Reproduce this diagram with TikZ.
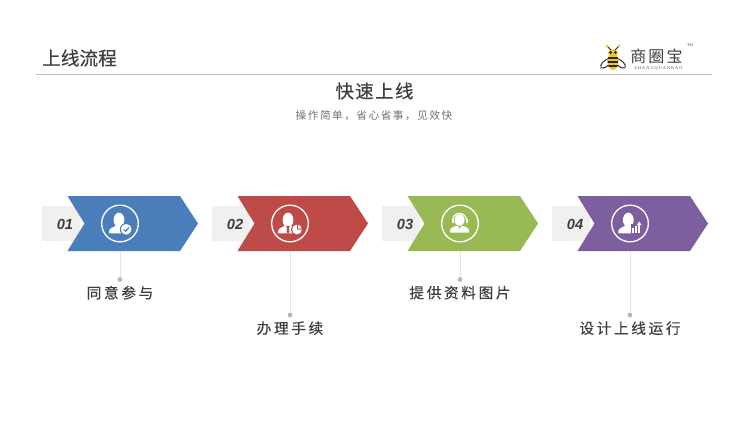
\documentclass[tikz,border=0pt]{standalone}
\usepackage{fontspec}
\setmainfont{Liberation Sans}
\newfontfamily\cjk[FakeBold=0.4]{Noto Sans CJK SC}
\newfontfamily\cjkwide[LetterSpace=18,FakeBold=0.4]{Noto Sans CJK SC}
\newfontfamily\cjkmid[LetterSpace=8,FakeBold=0.4]{Noto Sans CJK SC}
\newfontfamily\cjksub[LetterSpace=14]{Noto Sans CJK SC}
\newfontfamily\logoserif{Liberation Serif}
\usetikzlibrary{positioning}
\definecolor{stepblue}{HTML}{4A7EBB}
\definecolor{stepred}{HTML}{BE4B48}
\definecolor{stepgreen}{HTML}{98B954}
\definecolor{steppurple}{HTML}{7D5FA0}
\definecolor{tabgrey}{HTML}{F0F0F0}
\definecolor{inkgrey}{HTML}{3F3F3F}
\definecolor{beeyellow}{HTML}{F2C524}
\tikzset{
  steplabel/.style = {text = inkgrey, inner sep = 0, font = \fontsize{11}{12}\cjkwide},
  stepnum/.style = {text = inkgrey, inner sep = 0, font = \fontsize{11}{12}\bfseries\itshape},
  stemdot/.style = {fill = black!28, circle, inner sep = 0, minimum size = 3.6},
  stem/.style = {draw = black!10, line width = 0.7},
  ring/.style = {draw = white, line width = 1, circle, inner sep = 0, minimum size = 27.5},
}
\newcommand{\personshape}{
  \fill [white] (0, -3.5) ellipse (5.4 and 7.3);
  \fill [white] (-10, 9.8) .. controls (-10.5, 5.5) and (-8, 4.5) .. (-3.5, 2.5)
    -- (3.5, 2.5) .. controls (8, 4.5) and (10.5, 5.5) .. (10, 9.8) -- cycle;
}
\begin{document}
\begin{tikzpicture}[x=0.75pt, y=-0.75pt]
  \useasboundingbox (0, 0) rectangle (750, 422);
  \fill [white] (0, 0) rectangle (750, 422);

  \node [text = inkgrey, inner sep = 0, font = \fontsize{14}{16}\cjk] (pagetitle) at (79.5, 58) {上线流程};
  \coordinate (ruleleft) at (36, 74.5);
  \coordinate (ruleright) at (712, 74.5);
  \draw [draw = black!25, line width = 0.7] (ruleleft) -- (ruleright);

  \node [text = inkgrey, inner sep = 0, font = \fontsize{13.8}{15}\cjkmid] (headline) at (374.5, 91) {快速上线};
  \node [text = black!55, inner sep = 0, font = \fontsize{8}{10}\cjksub] (subline) at (374, 116) {操作简单，省心省事，见效快};

  \foreach \i/\sx/\col/\txt/\dy in {1/0/stepblue/同意参与/279.5, 2/170/stepred/办理手续/315, 3/340/stepgreen/提供资料图片/279.5, 4/510/steppurple/设计上线运行/315} {
    \begin{scope}[shift={(\sx, 0)}]
      \fill [tabgrey] (41.5, 206) rectangle (80, 241);
      \fill [\col] (67.5, 196) -- (180, 196) -- (198, 223.5) -- (180, 251) -- (67.5, 251) -- (84.5, 223.5) -- cycle;
      \node [stepnum] (num\i) at (65, 224) {0\i};
      \node [ring] (ring\i) at (120, 223.5) {};
      \coordinate (foot\i) at (120, 251);
      \node [stemdot] (dot\i) at (120, \dy) {};
      \draw [stem] (foot\i) -- (dot\i);
      \node [steplabel, below = 2.6pt of dot\i] (label\i) {\txt};
    \end{scope}
  }

  % blue: tick badge
  \begin{scope}[shift={(119, 223.5)}]
    \personshape
    \fill [white, draw = stepblue, line width = 0.8] (7.2, 5.8) circle (5.8);
    \draw [stepblue, line width = 0.9] (4.7, 5.8) -- (6.7, 7.8) -- (10, 3.8);
  \end{scope}

  % red: suit and pie
  \begin{scope}[shift={(288, 223.5)}]
    \personshape
    \fill [stepred] (-2.2, 2.5) -- (2.2, 2.5) -- (0.8, 4.5) -- (1.5, 8.5) -- (0, 9.8) -- (-1.5, 8.5) -- (-0.8, 4.5) -- cycle;
    \fill [white, draw = stepred, line width = 0.8] (9, 6) circle (5.6);
    \fill [stepred] (9, 6) -- (9, 0.4) -- (9.8, 0.4) -- (9.8, 5.2) -- (14.6, 5.2) -- (14.6, 6) -- cycle;
  \end{scope}

  % green: headset
  \begin{scope}[shift={(459.5, 223.5)}]
    \fill [white] (0, -3.5) ellipse (5 and 6);
    \draw [white, line width = 0.9] (-7, -3) arc [start angle = 180, end angle = 360, x radius = 7, y radius = 7.2];
    \fill [white] (-8, -5) rectangle (-6, -0.5);
    \fill [white] (6, -5) rectangle (8, -0.5);
    \fill [white] (-9.5, 9) .. controls (-10, 5) and (-8, 4) .. (-3.5, 2.5)
      -- (3.5, 2.5) .. controls (8, 4) and (10, 5) .. (9.5, 9) -- cycle;
    \fill [stepgreen] (-1.5, 2.5) -- (1.5, 2.5) -- (0, 5.5) -- cycle;
  \end{scope}

  % purple: bars and arrow
  \begin{scope}[shift={(628.3, 223.5)}]
    \personshape
    \fill [steppurple] (2.5, 0) rectangle (13.5, 10.5);
    \fill [white] (3.7, 4.5) rectangle (5.7, 9);
    \fill [white] (6.7, 2.5) rectangle (8.7, 9);
    \fill [white] (9.9, 1) rectangle (11.9, 9);
    \fill [white] (10.9, -2) -- (13.3, 1.5) -- (8.5, 1.5) -- cycle;
  \end{scope}

  % logo
  \begin{scope}[shift={(613, 58)}]
    \draw [black!85, line width = 0.7] (-3, 0) .. controls (-9, 2) and (-13.5, 6) .. (-12, 10) .. controls (-8, 11) and (-4, 7) .. (-2.5, 4);
    \draw [black!85, line width = 0.7] (3, 0) .. controls (9, 2) and (13.5, 6) .. (12, 10) .. controls (8, 11) and (4, 7) .. (2.5, 4);
    \fill [beeyellow] (0, 3.5) ellipse (5.5 and 8.5);
    \begin{scope}
      \clip (0, 3.5) ellipse (5.5 and 8.5);
      \fill [black!85] (-6, -1.5) rectangle (6, 0.5);
      \fill [black!85] (-6, 2.5) rectangle (6, 4.5);
      \fill [black!85] (-6, 6.5) rectangle (6, 8.5);
    \end{scope}
    \fill [beeyellow] (0, -5) ellipse (5 and 3.8);
    \fill [black!85] (-2.4, -5.5) circle (1.5);
    \fill [black!85] (2.4, -5.5) circle (1.5);
    \draw [black!85, line width = 0.6] (-2, -8) -- (-6, -12);
    \draw [black!85, line width = 0.6] (2, -8) -- (6, -12);
    \fill [beeyellow] (-6, -12) circle (1.3);
    \fill [beeyellow] (6, -12) circle (1.3);
  \end{scope}
  \node [text = black!75, inner sep = 0, font = \fontsize{12}{14}\cjksub] (logotext) at (656.5, 56) {商圈宝};
  \node [text = black!70, inner sep = 0, font = \fontsize{3.2}{4}\logoserif] (logosub) at (658.5, 68) {S H A N G Q U A N B A O};
  \node [text = black!70, inner sep = 0, font = \fontsize{3}{4}\logoserif] (logotm) at (690, 45.5) {TM};
\end{tikzpicture}
\end{document}
